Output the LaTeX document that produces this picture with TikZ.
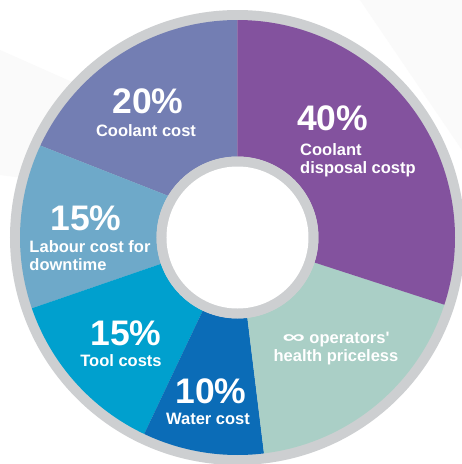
\documentclass[tikz,border=0pt]{standalone}
\usepackage{fontspec}
\setmainfont{Liberation Sans}
\usetikzlibrary{positioning}

\definecolor{ringgrey}{HTML}{CDCFD1}
\definecolor{segpurple}{HTML}{83529E}
\definecolor{segslate}{HTML}{737EB3}
\definecolor{segsky}{HTML}{6EA9C9}
\definecolor{segcyan}{HTML}{00A0CE}
\definecolor{segblue}{HTML}{0B6CB7}
\definecolor{segmint}{HTML}{AACFC6}

\begin{document}
\begin{tikzpicture}[x=1pt, y=1pt,
		pct/.style={font=\bfseries\fontsize{35.5}{40}\selectfont, text=white, inner sep=0pt},
		lbl/.style={font=\bfseries\fontsize{16.5}{18.5}\selectfont, text=white, inner sep=0pt},
		]
		%Background
		\fill[white] (-237.5,-226.5) rectangle (224.5,237.5);
		\useasboundingbox (-237.5,-226.5) rectangle (224.5,237.5);
		\fill[black!2] (-237.5,187.5) -- (-147.5,147.5) -- (-197.5,57.5) -- (-237.5,62.5) -- cycle;
		\fill[black!2] (122.5,237.5) -- (224.5,237.5) -- (224.5,87.5) -- cycle;
		
		%Ring
		\fill[ringgrey] (0,0) circle[radius=227.5];
		\fill[segslate]  (90:217.5) arc[start angle=90, end angle=155, radius=217.5] -- (149:81) arc[start angle=149, end angle=90, radius=81] -- cycle;
		\fill[segsky]    (155:217.5) arc[start angle=155, end angle=199, radius=217.5] -- (199:81) arc[start angle=199, end angle=149, radius=81] -- cycle;
		\fill[segcyan]   (199:217.5) arc[start angle=199, end angle=244.6, radius=217.5] -- (244.6:81) arc[start angle=244.6, end angle=199, radius=81] -- cycle;
		\fill[segblue]   (244.6:217.5) arc[start angle=244.6, end angle=277, radius=217.5] -- (277:81) arc[start angle=277, end angle=244.6, radius=81] -- cycle;
		\fill[segmint]   (277:217.5) arc[start angle=277, end angle=342, radius=217.5] -- (342:81) arc[start angle=342, end angle=277, radius=81] -- cycle;
		\fill[segpurple] (342:217.5) arc[start angle=342, end angle=450, radius=217.5] -- (450:81) arc[start angle=450, end angle=342, radius=81] -- cycle;
		\fill[ringgrey] (0,0) circle[radius=81];
		\fill[white] (0,0) circle[radius=71];
		
		%Labels
		\node[pct, anchor=base] (p20) at (-89.5,124.2) {20\%};
		\node[lbl] (l20) [below=10.9pt of p20, xshift=-2pt] {Coolant cost};
		
		\node[pct, anchor=base west] (p40) at (59.5,107.5) {40\%};
		\node[lbl, anchor=north west, align=left] (l40) at (62.5,94.3) {Coolant\\disposal costp};
		
		\node[pct, anchor=base] (p15a) at (-151.5,7.5) {15\%};
		\node[lbl, anchor=north west, align=left] (l15a) at (-208.2,-2.4) {Labour cost for\\downtime};
		
		\node[pct, anchor=base] (p15b) at (-111.5,-107.5) {15\%};
		\node[lbl] (l15b) [below=9.2pt of p15b, xshift=-5pt] {Tool costs};
		
		\node[pct, anchor=base] (p10) at (-26.5,-165.8) {10\%};
		\node[lbl] (l10) [below=9.2pt of p10, xshift=-3pt] {Water cost};
		
		\node[lbl, anchor=north, align=center] (lhp) at (98.5,-94) {\scalebox{1.9}[1.15]{∞} operators\textquotesingle\\health priceless};
\end{tikzpicture}
\end{document}
